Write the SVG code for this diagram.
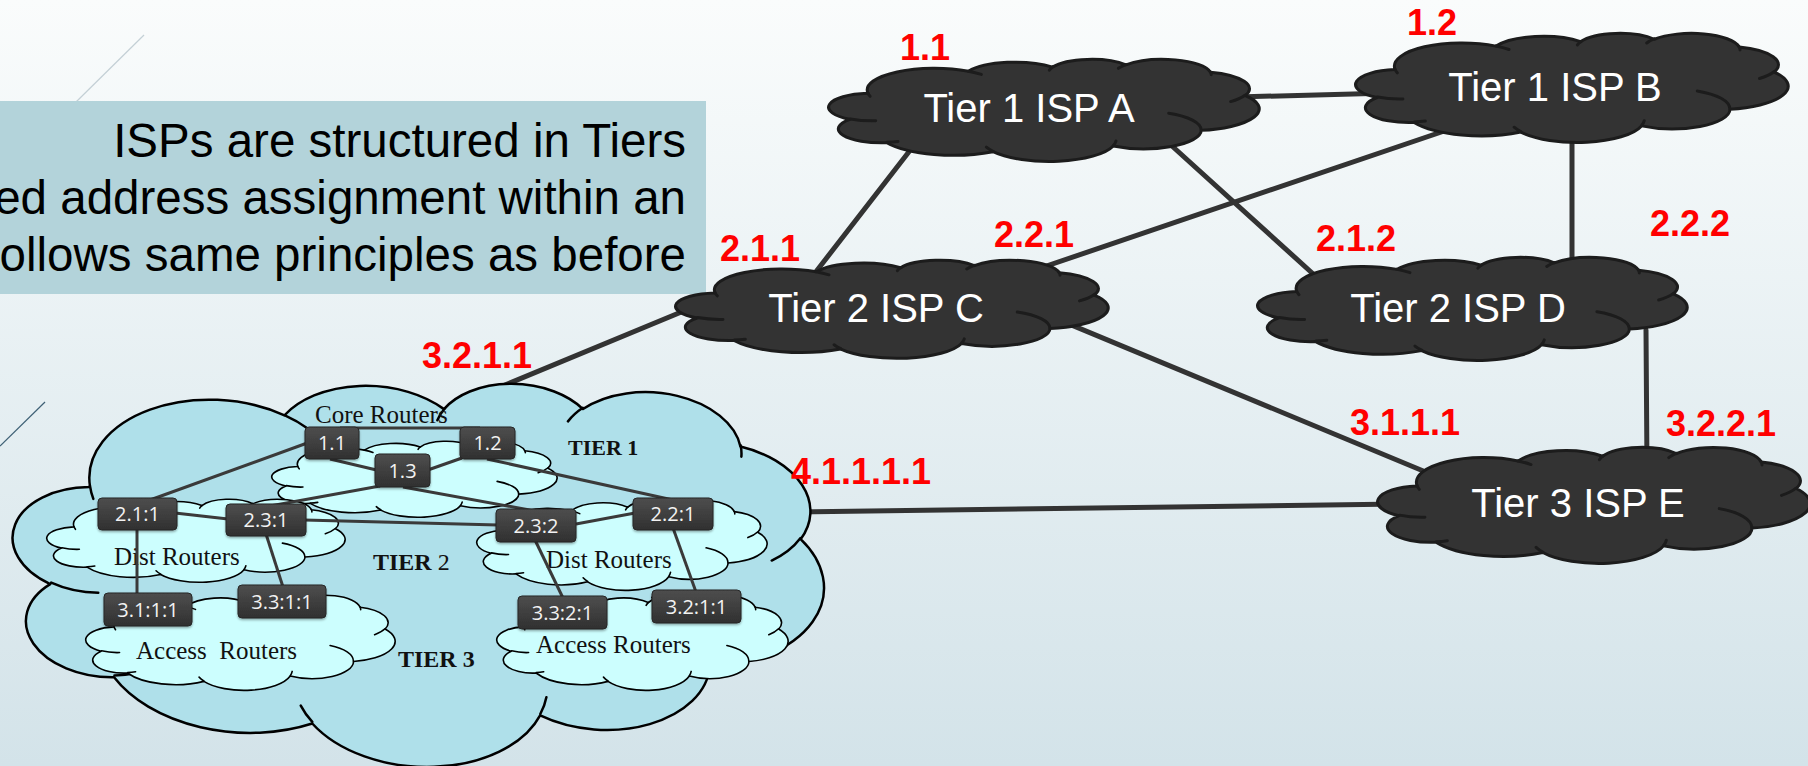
<svg xmlns="http://www.w3.org/2000/svg" width="1808" height="766" viewBox="0 0 1808 766">
  <defs>
    <linearGradient id="bg" x1="0" y1="0" x2="0" y2="1">
      <stop offset="0" stop-color="#fafcfc"/>
      <stop offset="1" stop-color="#d3e3e9"/>
    </linearGradient>
    <linearGradient id="routerFill" x1="0" y1="0" x2="0" y2="1">
      <stop offset="0" stop-color="#4e4e4e"/>
      <stop offset="1" stop-color="#303030"/>
    </linearGradient>
    <filter id="shadow" x="-20%" y="-30%" width="140%" height="170%">
      <feDropShadow dx="0" dy="1.5" stdDeviation="1.2" flood-color="#000" flood-opacity="0.35"/>
    </filter>
    <!-- cloud outline in a 100x100 box, plus the inner hook strokes -->
    <g id="cloud">
      <path vector-effect="non-scaling-stroke" stroke-linejoin="round" d="M 9.03 33.26 A 15.63 21.27 0 0 1 32.42 12.04 A 12.34 16.82 0 0 1 51.98 7.95 A 10.10 13.76 0 0 1 69.06 5.74 A 11.24 15.27 0 0 1 88.70 12.91 A 12.34 16.84 0 0 1 96.80 35.79 A 15.68 21.34 0 0 1 86.58 69.92 A 13.39 18.21 0 0 1 66.10 85.22 A 15.63 21.33 0 0 1 38.15 90.90 A 17.87 24.41 0 0 1 13.44 82.11 A 10.09 13.70 0 0 1 4.89 59.15 A 10.06 13.76 0 0 1 8.94 33.58 Z"/>
      <path vector-effect="non-scaling-stroke" fill="none" stroke-linecap="round" d="M 10.86 60.60 A 10.06 13.76 0 0 1 5.00 58.75 M 16.04 80.78 A 10.09 13.70 0 0 1 13.47 81.67 M 38.14 90.49 A 15.63 21.33 0 0 1 36.60 86.46 M 66.73 80.44 A 15.63 21.33 0 0 1 66.11 84.86 M 79.00 53.13 A 13.39 18.21 0 0 1 86.53 69.65 M 96.75 35.54 A 12.34 16.84 0 0 1 93.40 41.74 M 88.71 12.56 A 11.24 15.27 0 0 1 88.89 15.49 M 67.31 9.15 A 11.24 15.27 0 0 1 69.03 5.42 M 51.25 10.93 A 10.10 13.76 0 0 1 52.08 7.71 M 32.41 12.02 A 15.63 21.27 0 0 1 35.42 15.14 M 9.55 36.55 A 15.63 21.27 0 0 1 9.04 33.27"/>
    </g>
  </defs>
  <style>
    .isp { fill: #333333; stroke: #1c1c1c; stroke-width: 3; }
    .isp-label { font-family: "Liberation Sans", Arial, sans-serif; font-size: 40px; fill: #ffffff; text-anchor: middle; }
    .addr { font-family: "Liberation Sans", Arial, sans-serif; font-size: 36px; font-weight: bold; fill: #ff0000; }
    .link { stroke: #333333; stroke-width: 5; stroke-linecap: round; fill: none; }
    .rlink { stroke: #3a3a3a; stroke-width: 3; fill: none; }
    .sub { fill: #ccfefe; stroke: #000000; stroke-width: 1.6; }
    .router rect { fill: url(#routerFill); stroke: #262626; stroke-width: 1; filter: url(#shadow); }
    .router text { font-family: "Open Sans", "Liberation Sans", sans-serif; font-size: 20px; fill: #f2f2f2; text-anchor: middle; }
    .serif { font-family: "Liberation Serif", "Times New Roman", serif; font-size: 25px; fill: #111111; }
    .tier { font-family: "Liberation Serif", "Times New Roman", serif; font-weight: bold; fill: #111111; }
    .caption { font-family: "Liberation Sans", Arial, sans-serif; font-size: 47.5px; fill: #000000; text-anchor: end; }
  </style>

  <!-- backdrop -->
  <rect x="0" y="0" width="1808" height="766" fill="url(#bg)"/>
  <line x1="144" y1="35" x2="76" y2="102" stroke="#c4d0d6" stroke-width="1.2"/>
  <line x1="45" y1="402" x2="0" y2="446" stroke="#3e6075" stroke-width="1.2"/>

  <!-- caption box -->
  <g id="caption">
    <rect x="0" y="101" width="706" height="193" fill="#b3d3da"/>
    <text class="caption" x="686" y="157">ISPs are structured in Tiers</text>
    <text class="caption" x="686" y="214">ed address assignment within an</text>
    <text class="caption" x="686" y="271">ollows same principles as before</text>
  </g>

  <!-- links between ISPs -->
  <g id="isp-links">
    <line class="link" x1="1200" y1="98" x2="1390" y2="93"/>
    <line class="link" x1="932" y1="122" x2="808" y2="282"/>
    <line class="link" x1="1518" y1="106" x2="1020" y2="275"/>
    <line class="link" x1="1140" y1="117" x2="1322" y2="282"/>
    <line class="link" x1="1572" y1="142" x2="1572" y2="300"/>
    <line class="link" x1="1646" y1="330" x2="1647" y2="470"/>
    <line class="link" x1="992" y1="292" x2="1445" y2="480"/>
    <line class="link" x1="720" y1="296" x2="488" y2="392"/>
    <line class="link" x1="795" y1="512" x2="1400" y2="504"/>
  </g>

  <!-- tiered network of one ISP -->
  <g id="tier-network">
    <use href="#cloud" transform="rotate(3.5 418 571) translate(12 377) scale(8.12 3.88)" fill="#afe0ea" stroke="#000000" stroke-width="2.5"/>
    <use class="sub" href="#cloud" transform="translate(272 441) scale(2.85 0.76)"/>
    <use class="sub" href="#cloud" transform="translate(47 499) scale(2.98 0.83)"/>
    <use class="sub" href="#cloud" transform="translate(477 500) scale(2.90 0.90)"/>
    <use class="sub" href="#cloud" transform="translate(86 595) scale(3.09 0.95)"/>
    <use class="sub" href="#cloud" transform="translate(497 595) scale(2.91 0.95)"/>

    <text class="serif" x="315" y="423">Core Routers</text>
    <text class="serif" x="114" y="565">Dist Routers</text>
    <text class="serif" x="546" y="568">Dist Routers</text>
    <text class="serif" x="136" y="659" style="white-space:pre">Access  Routers</text>
    <text class="serif" x="536" y="653">Access Routers</text>
    <text class="tier" x="568" y="455" font-size="22">TIER 1</text>
    <text class="tier" x="373" y="570" font-size="24">TIER <tspan font-weight="normal">2</tspan></text>
    <text class="tier" x="398" y="667" font-size="24">TIER 3</text>

    <g id="router-links">
      <line class="rlink" x1="340" y1="428" x2="480" y2="428"/>
      <line class="rlink" x1="330" y1="459" x2="385" y2="472"/>
      <line class="rlink" x1="462" y1="458" x2="425" y2="471"/>
      <line class="rlink" x1="310" y1="442" x2="150" y2="500"/>
      <line class="rlink" x1="380" y1="486" x2="270" y2="506"/>
      <line class="rlink" x1="403" y1="487" x2="535" y2="511"/>
      <line class="rlink" x1="487" y1="459" x2="673" y2="500"/>
      <line class="rlink" x1="175" y1="513" x2="228" y2="519"/>
      <line class="rlink" x1="304" y1="520" x2="498" y2="525"/>
      <line class="rlink" x1="576" y1="524" x2="635" y2="513"/>
      <line class="rlink" x1="137" y1="528" x2="137" y2="595"/>
      <line class="rlink" x1="266" y1="534" x2="283" y2="587"/>
      <line class="rlink" x1="535" y1="540" x2="563" y2="598"/>
      <line class="rlink" x1="673" y1="528" x2="696" y2="592"/>
    </g>

    <g id="r-1-1" class="router"><rect x="305" y="427" width="54" height="32" rx="4"/><text x="332" y="450">1.1</text></g>
    <g id="r-1-2" class="router"><rect x="460" y="427" width="55" height="32" rx="4"/><text x="487.5" y="450">1.2</text></g>
    <g id="r-1-3" class="router"><rect x="375" y="454" width="55" height="33" rx="4"/><text x="402.5" y="477.5">1.3</text></g>
    <g id="r-2-1-1" class="router"><rect x="98" y="498" width="79" height="32" rx="4"/><text x="137.5" y="521">2.1:1</text></g>
    <g id="r-2-3-1" class="router"><rect x="226" y="504" width="80" height="32" rx="4"/><text x="266" y="527">2.3:1</text></g>
    <g id="r-2-3-2" class="router"><rect x="496" y="509" width="80" height="33" rx="4"/><text x="536" y="532.5">2.3:2</text></g>
    <g id="r-2-2-1" class="router"><rect x="633" y="498" width="80" height="32" rx="4"/><text x="673" y="521">2.2:1</text></g>
    <g id="r-3-1-1-1" class="router"><rect x="104" y="593" width="88" height="33" rx="4"/><text x="148" y="616.5">3.1:1:1</text></g>
    <g id="r-3-3-1-1" class="router"><rect x="238" y="585" width="88" height="33" rx="4"/><text x="282" y="608.5">3.3:1:1</text></g>
    <g id="r-3-3-2-1" class="router"><rect x="518" y="596" width="89" height="33" rx="4"/><text x="562.5" y="619.5">3.3:2:1</text></g>
    <g id="r-3-2-1-1" class="router"><rect x="652" y="590" width="89" height="33" rx="4"/><text x="696.5" y="613.5">3.2:1:1</text></g>
  </g>

  <!-- ISP clouds -->
  <g id="isp-a">
    <use class="isp" href="#cloud" transform="translate(829 59) scale(4.30 1.02)"/>
    <text class="isp-label" x="1029" y="122">Tier 1 ISP A</text>
  </g>
  <g id="isp-b">
    <use class="isp" href="#cloud" transform="translate(1356 33) scale(4.32 1.09)"/>
    <text class="isp-label" x="1555" y="101">Tier 1 ISP B</text>
  </g>
  <g id="isp-c">
    <use class="isp" href="#cloud" transform="translate(676 260) scale(4.32 0.98)"/>
    <text class="isp-label" x="876" y="322">Tier 2 ISP C</text>
  </g>
  <g id="isp-d">
    <use class="isp" href="#cloud" transform="translate(1258 257) scale(4.29 1.03)"/>
    <text class="isp-label" x="1458" y="322">Tier 2 ISP D</text>
  </g>
  <g id="isp-e">
    <use class="isp" href="#cloud" transform="translate(1378 447) scale(4.32 1.16)"/>
    <text class="isp-label" x="1578" y="517">Tier 3 ISP E</text>
  </g>

  <!-- address labels -->
  <g id="addresses">
    <text class="addr" x="900" y="60">1.1</text>
    <text class="addr" x="1407" y="35">1.2</text>
    <text class="addr" x="720" y="261">2.1.1</text>
    <text class="addr" x="994" y="247">2.2.1</text>
    <text class="addr" x="1316" y="251">2.1.2</text>
    <text class="addr" x="1650" y="236">2.2.2</text>
    <text class="addr" x="422" y="368">3.2.1.1</text>
    <text class="addr" x="1350" y="435">3.1.1.1</text>
    <text class="addr" x="1666" y="436">3.2.2.1</text>
    <text class="addr" x="791" y="484">4.1.1.1.1</text>
  </g>
</svg>
